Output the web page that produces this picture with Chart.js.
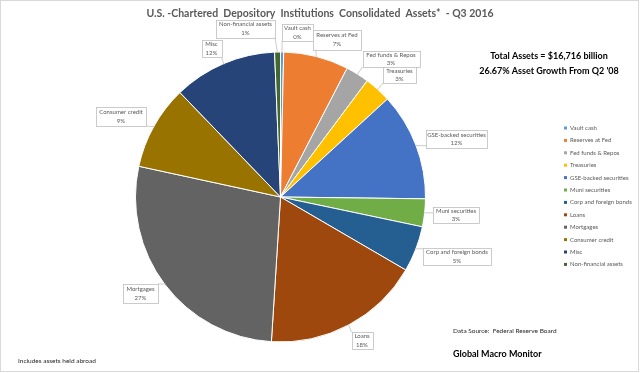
<!DOCTYPE html>
<html>
<head>
<meta charset="utf-8">
<script src="https://cdn.jsdelivr.net/npm/chart.js@4/dist/chart.umd.min.js"></script>
<style>
  html, body { margin: 0; padding: 0; background: #fff; }
  canvas { display: block; }
</style>
</head>
<body>
<canvas id="assets-pie" width="640" height="373"></canvas>
<script>
// share of total assets (%)
const categories = ['Vault cash', 'Reserves at Fed', 'Fed funds & Repos', 'Treasuries', 'GSE-backed securities', 'Muni securities', 'Corp and foreign bonds', 'Loans', 'Mortgages', 'Consumer credit', 'Misc', 'Non-financial assets'];
const shares = [0.35, 7.25, 2.6, 3.0, 12.0, 3.1, 5.1, 17.6, 27.4, 9.4, 11.55, 0.65];
const colors = ['#5B9BD5', '#ED7D31', '#A5A5A5', '#FFC000', '#4472C4', '#70AD47', '#255E91', '#9E480E', '#636363', '#997300', '#264478', '#43682B'];

// callout boxes: centre x, centre y, width, height
const callouts = [
    [297.5, 32.5, 31, 17],
    [337, 39.5, 48, 20],
    [391, 59, 57, 16],
    [399.5, 75, 33, 16],
    [456.5, 139, 61, 18],
    [456, 215, 46, 16],
    [457, 256.5, 68, 17],
    [362, 340.5, 21, 17],
    [140.5, 293.5, 35, 19],
    [121, 116.5, 50, 19],
    [211.5, 48.5, 20, 17],
    [245.5, 28.5, 59, 18],
];

const GREY = '#595959';
const FONT = 'Lato, "Open Sans", sans-serif';

const decorations = {
    id: 'decorations',
    afterDraw(chart) {
        const ctx = chart.ctx;
        const total = shares.reduce((a, b) => a + b, 0);
        const arcs = chart.getDatasetMeta(0).data;

        ctx.save();

        // frame
        ctx.strokeStyle = '#d9d9d9';
        ctx.lineWidth = 1;
        ctx.strokeRect(0.5, 0.5, 638, 371);

        // title
        ctx.fillStyle = GREY;
        ctx.font = `bold 10.5px ${FONT}`;
        ctx.textAlign = 'center';
        ctx.textBaseline = 'middle';
        ctx.fillText('U.S. -Chartered  Depository  Institutions  Consolidated  Assets*  - Q3 2016', 320, 14);

        // callouts with leader lines
        arcs.forEach((arc, i) => {
            const { x, y, startAngle, endAngle, outerRadius } = arc.getProps(['x', 'y', 'startAngle', 'endAngle', 'outerRadius'], true);
            const mid = (startAngle + endAngle) / 2;
            const ax = x + Math.cos(mid) * (outerRadius - 1);
            const ay = y + Math.sin(mid) * (outerRadius - 1);
            const [cx, cy, w, h] = callouts[i];
            const left = cx - w / 2, top = cy - h / 2;
            const px = Math.min(Math.max(ax, left), left + w);
            const py = Math.min(Math.max(ay, top), top + h);

            ctx.strokeStyle = '#bfbfbf';
            ctx.lineWidth = 0.8;
            ctx.beginPath();
            ctx.moveTo(ax, ay);
            ctx.lineTo(px, py);
            ctx.stroke();

            ctx.fillStyle = '#fff';
            ctx.fillRect(left, top, w, h);
            ctx.strokeRect(Math.round(left) + 0.5, Math.round(top) + 0.5, Math.round(w), Math.round(h));

            ctx.fillStyle = GREY;
            ctx.font = `6px ${FONT}`;
            ctx.textAlign = 'center';
            ctx.fillText(categories[i], cx, cy - 4);
            ctx.fillText(Math.round(shares[i] / total * 100) + '%', cx, cy + 4.5);
        });

        // legend
        ctx.textAlign = 'left';
        ctx.font = `6px ${FONT}`;
        categories.forEach((c, i) => {
            const ly = 128 + i * 12.4;
            ctx.fillStyle = colors[i];
            ctx.fillRect(564, ly - 1.5, 3, 3);
            ctx.fillStyle = GREY;
            ctx.fillText(c, 570, ly);
        });

        // notes
        ctx.fillStyle = '#000';
        ctx.textAlign = 'center';
        ctx.font = `bold 9px ${FONT}`;
        ctx.fillText('Total Assets = $16,716 billion', 549, 56);
        ctx.fillText("26.67% Asset Growth From Q2 '08", 549, 71);

        ctx.textAlign = 'left';
        ctx.fillStyle = '#262626';
        ctx.font = `6.5px ${FONT}`;
        ctx.fillText('Data Source:  Federal Reserve Board', 453, 331);
        ctx.fillText('Includes assets held abroad', 18, 361);

        ctx.fillStyle = '#000';
        ctx.font = `bold 9px ${FONT}`;
        ctx.fillText('Global Macro Monitor', 453, 354);

        ctx.restore();
    },
};

new Chart(document.getElementById('assets-pie').getContext('2d'), {
    type: 'pie',
    data: {
        labels: categories,
        datasets: [{
            data: shares,
            backgroundColor: colors,
            borderColor: '#fff',
            borderWidth: 1,
            hoverOffset: 0,
        }],
    },
    options: {
        responsive: false,
        animation: false,
        layout: { padding: { left: 135, right: 214, top: 51, bottom: 30 } },
        plugins: {
            legend: { display: false },
            tooltip: { enabled: false },
        },
    },
    plugins: [decorations],
});
</script>
</body>
</html>
